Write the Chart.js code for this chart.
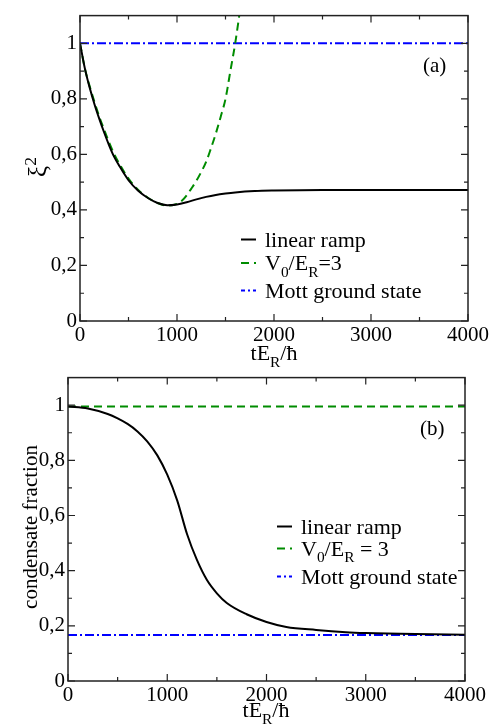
<!DOCTYPE html>
<html lang="en">
<head>
  <meta charset="utf-8">
  <title>Squeezing and condensate fraction</title>
  <script src="https://cdn.jsdelivr.net/npm/chart.js@4/dist/chart.umd.min.js"></script>
  <style>
    body { margin: 0; background: #fff; }
    #wrap { position: relative; width: 496px; height: 725px; overflow: hidden; }
    canvas { position: absolute; left: 0; }
    #chart-a { top: 0; }
    #chart-b { top: 362px; }
  </style>
</head>
<body>
  <div id="wrap">
    <canvas id="chart-a" width="496" height="372"></canvas>
    <canvas id="chart-b" width="496" height="363"></canvas>
  </div>

  <script>
    // ---- data ----
    var seriesNames = ["linear ramp", "V0/ER=3", "Mott ground state"];
    var xTicks = [0, 1000, 2000, 3000, 4000];
    var xTickLabels = ["0", "1000", "2000", "3000", "4000"];
    var yTicks = [0, 0.2, 0.4, 0.6, 0.8, 1];
    var yTickLabels = ["0", "0,2", "0,4", "0,6", "0,8", "1"];
    var tEnds = [0, 4000];

    // panel (a): squeezing parameter xi^2
    var tRampA = [0, 50, 100, 150, 200, 250, 300, 350, 400, 500, 600, 700, 800, 900,
                  1000, 1100, 1200, 1300, 1400, 1500, 1600, 1800, 2000, 2500, 3000, 4000];
    var rampA  = [1.0, 0.91, 0.84, 0.78, 0.727, 0.678, 0.633, 0.593, 0.562, 0.507, 0.469, 0.443, 0.425, 0.417,
                  0.420, 0.428, 0.438, 0.447, 0.454, 0.459, 0.463, 0.468, 0.470, 0.472, 0.472, 0.472];
    var tFixedA = [0, 50, 100, 150, 200, 250, 300, 350, 400, 500, 600, 700, 800, 900,
                   1000, 1050, 1100, 1150, 1200, 1250, 1300, 1350, 1400, 1450, 1500, 1550, 1600, 1650];
    var fixedA  = [1.0, 0.91, 0.845, 0.788, 0.735, 0.688, 0.643, 0.603, 0.57, 0.513, 0.472, 0.444, 0.425, 0.416,
                   0.422, 0.433, 0.453, 0.478, 0.505, 0.537, 0.573, 0.622, 0.675, 0.735, 0.8, 0.9, 1.0, 1.12];
    var mottA = [1, 1];

    // panel (b): condensate fraction
    var tRampB = [0, 200, 400, 500, 600, 700, 800, 900, 1000, 1100, 1200, 1300, 1400, 1500,
                  1600, 1800, 2000, 2200, 2500, 2800, 3000, 3500, 4000];
    var rampB  = [0.995, 0.988, 0.968, 0.952, 0.932, 0.905, 0.868, 0.818, 0.748, 0.655, 0.532, 0.438, 0.366, 0.318,
                  0.283, 0.242, 0.214, 0.196, 0.185, 0.177, 0.174, 0.170, 0.168];
    var fixedB = [0.995, 0.995];
    var mottB  = [0.167, 0.167];

    var FONT = "'Liberation Serif', 'DejaVu Serif', serif";
    var GREEN = "#008c00";
    var BLUE = "#0000ff";

    function pts(xs, ys) {
      return xs.map(function(x, i) { return { x: x, y: ys[i] }; });
    }

    // draws text made of plain/sub/sup parts
    function richWidth(ctx, parts, size) {
      var w = 0;
      parts.forEach(function(p) {
        ctx.font = (p[1] ? size * 0.7 : size) + "px " + FONT;
        w += ctx.measureText(p[0]).width;
      });
      return w;
    }
    function richText(ctx, parts, x, y, size, align) {
      var w = richWidth(ctx, parts, size);
      var cx = align === "center" ? x - w / 2 : x;
      ctx.textAlign = "left";
      ctx.textBaseline = "alphabetic";
      parts.forEach(function(p) {
        var s = p[1] ? size * 0.7 : size;
        var dy = p[1] === "sub" ? size * 0.3 : (p[1] === "sup" ? -size * 0.42 : 0);
        ctx.font = s + "px " + FONT;
        ctx.fillText(p[0], cx, y + dy);
        cx += ctx.measureText(p[0]).width;
      });
    }

    // frame with inward major/minor ticks on all four sides
    var framePlugin = {
      id: "frame",
      afterDraw: function(chart) {
        var ctx = chart.ctx, a = chart.chartArea;
        var xs = chart.scales.x, ys = chart.scales.y;
        ctx.save();
        ctx.strokeStyle = "#222";
        ctx.lineWidth = 1.5;
        ctx.strokeRect(a.left, a.top, a.right - a.left, a.bottom - a.top);
        ctx.lineWidth = 1.2;
        ctx.beginPath();
        for (var t = 0; t <= 4000; t += 500) {
          var px = xs.getPixelForValue(t), len = t % 1000 === 0 ? 7 : 4;
          ctx.moveTo(px, a.bottom); ctx.lineTo(px, a.bottom - len);
          ctx.moveTo(px, a.top); ctx.lineTo(px, a.top + len);
        }
        for (var k = 0; k <= 10; k++) {
          var py = ys.getPixelForValue(k / 10), l2 = k % 2 === 0 ? 7 : 4;
          ctx.moveTo(a.left, py); ctx.lineTo(a.left + l2, py);
          ctx.moveTo(a.right, py); ctx.lineTo(a.right - l2, py);
        }
        ctx.stroke();
        ctx.restore();
      }
    };

    // axis titles, panel label and legend with subscripts
    var textPlugin = {
      id: "texts",
      afterDraw: function(chart) {
        var o = chart.options.plugins.texts;
        var ctx = chart.ctx;
        ctx.save();
        ctx.fillStyle = "#000";
        richText(ctx, [["tE", ""], ["R", "sub"], ["/ħ", ""]], o.xTitle[0], o.xTitle[1], 22, "center");

        ctx.save();
        ctx.translate(o.yTitle[0], o.yTitle[1]);
        ctx.rotate(-Math.PI / 2);
        richText(ctx, o.yTitleParts, 0, 0, o.yTitleSize, "center");
        ctx.restore();

        richText(ctx, [[o.tag, ""]], o.tagPos[0], o.tagPos[1], 21, "left");

        var lg = o.legend;
        chart.data.datasets.forEach(function(ds, i) {
          var yb = lg.baselines[i];
          ctx.save();
          ctx.strokeStyle = ds.borderColor;
          ctx.lineWidth = 2;
          ctx.setLineDash(ds.borderDash || []);
          ctx.lineDashOffset = lg.dashOffsets[i];
          ctx.beginPath();
          ctx.moveTo(lg.x, yb - 7);
          ctx.lineTo(lg.x + 15, yb - 7);
          ctx.stroke();
          ctx.restore();
          richText(ctx, lg.labels[i], lg.x + 24, yb, 22, "left");
        });
        ctx.restore();
      }
    };

    function makeChart(id, datasets, layout, texts) {
      return new Chart(document.getElementById(id), {
        type: "line",
        data: { datasets: datasets },
        plugins: [framePlugin, textPlugin],
        options: {
          responsive: false,
          animation: false,
          devicePixelRatio: 1,
          layout: { padding: { left: 0, right: layout.right, top: layout.top, bottom: 0 } },
          plugins: { legend: { display: false }, tooltip: { enabled: false }, texts: texts },
          elements: { point: { radius: 0 }, line: { cubicInterpolationMode: "monotone" } },
          scales: {
            x: {
              type: "linear", min: 0, max: 4000,
              afterBuildTicks: function(s) { s.ticks = xTicks.map(function(v) { return { value: v }; }); },
              afterFit: function(s) { s.height = layout.xHeight; },
              grid: { display: false, drawTicks: false },
              border: { display: false },
              ticks: {
                color: "#000", padding: 2, maxRotation: 0, font: { family: FONT, size: 21 },
                callback: function(v, i) { return xTickLabels[i]; }
              }
            },
            y: {
              type: "linear", min: 0, max: 1.1,
              afterBuildTicks: function(s) { s.ticks = yTicks.map(function(v) { return { value: v }; }); },
              afterFit: function(s) { s.width = layout.yWidth; },
              grid: { display: false, drawTicks: false },
              border: { display: false },
              ticks: {
                color: "#000", padding: 3, font: { family: FONT, size: 21 },
                callback: function(v, i) { return yTickLabels[i]; }
              }
            }
          }
        }
      });
    }

    makeChart("chart-a", [
      { data: pts(tRampA, rampA), borderColor: "#000", borderWidth: 2 },
      { data: pts(tFixedA, fixedA), borderColor: GREEN, borderWidth: 2, borderDash: [8, 5] },
      { data: pts(tEnds, mottA), borderColor: BLUE, borderWidth: 2, borderDash: [9, 3, 2, 3] }
    ], { right: 28, top: 11, xHeight: 51, yWidth: 80 }, {
      xTitle: [274, 360],
      yTitle: [46, 167], yTitleParts: [["ξ", ""], ["2", "sup"]], yTitleSize: 25,
      tag: "(a)", tagPos: [423, 72],
      legend: {
        x: 241, baselines: [246.5, 270, 297.5], dashOffsets: [0, 0, 5],
        labels: [[[seriesNames[0], ""]],
                 [["V", ""], ["0", "sub"], ["/E", ""], ["R", "sub"], ["=3", ""]],
                 [[seriesNames[2], ""]]]
      }
    });

    makeChart("chart-b", [
      { data: pts(tRampB, rampB), borderColor: "#000", borderWidth: 2 },
      { data: pts(tEnds, fixedB), borderColor: GREEN, borderWidth: 2, borderDash: [8, 5] },
      { data: pts(tEnds, mottB), borderColor: BLUE, borderWidth: 2, borderDash: [9, 3, 2, 3] }
    ], { right: 31, top: 12, xHeight: 44, yWidth: 68 }, {
      xTitle: [266, 355],
      yTitle: [37, 165], yTitleParts: [["condensate fraction", ""]], yTitleSize: 21,
      tag: "(b)", tagPos: [420, 73],
      legend: {
        x: 277, baselines: [171.5, 193.5, 221.5], dashOffsets: [0, 0, 5],
        labels: [[[seriesNames[0], ""]],
                 [["V", ""], ["0", "sub"], ["/E", ""], ["R", "sub"], [" = 3", ""]],
                 [[seriesNames[2], ""]]]
      }
    });
  </script>
</body>
</html>
